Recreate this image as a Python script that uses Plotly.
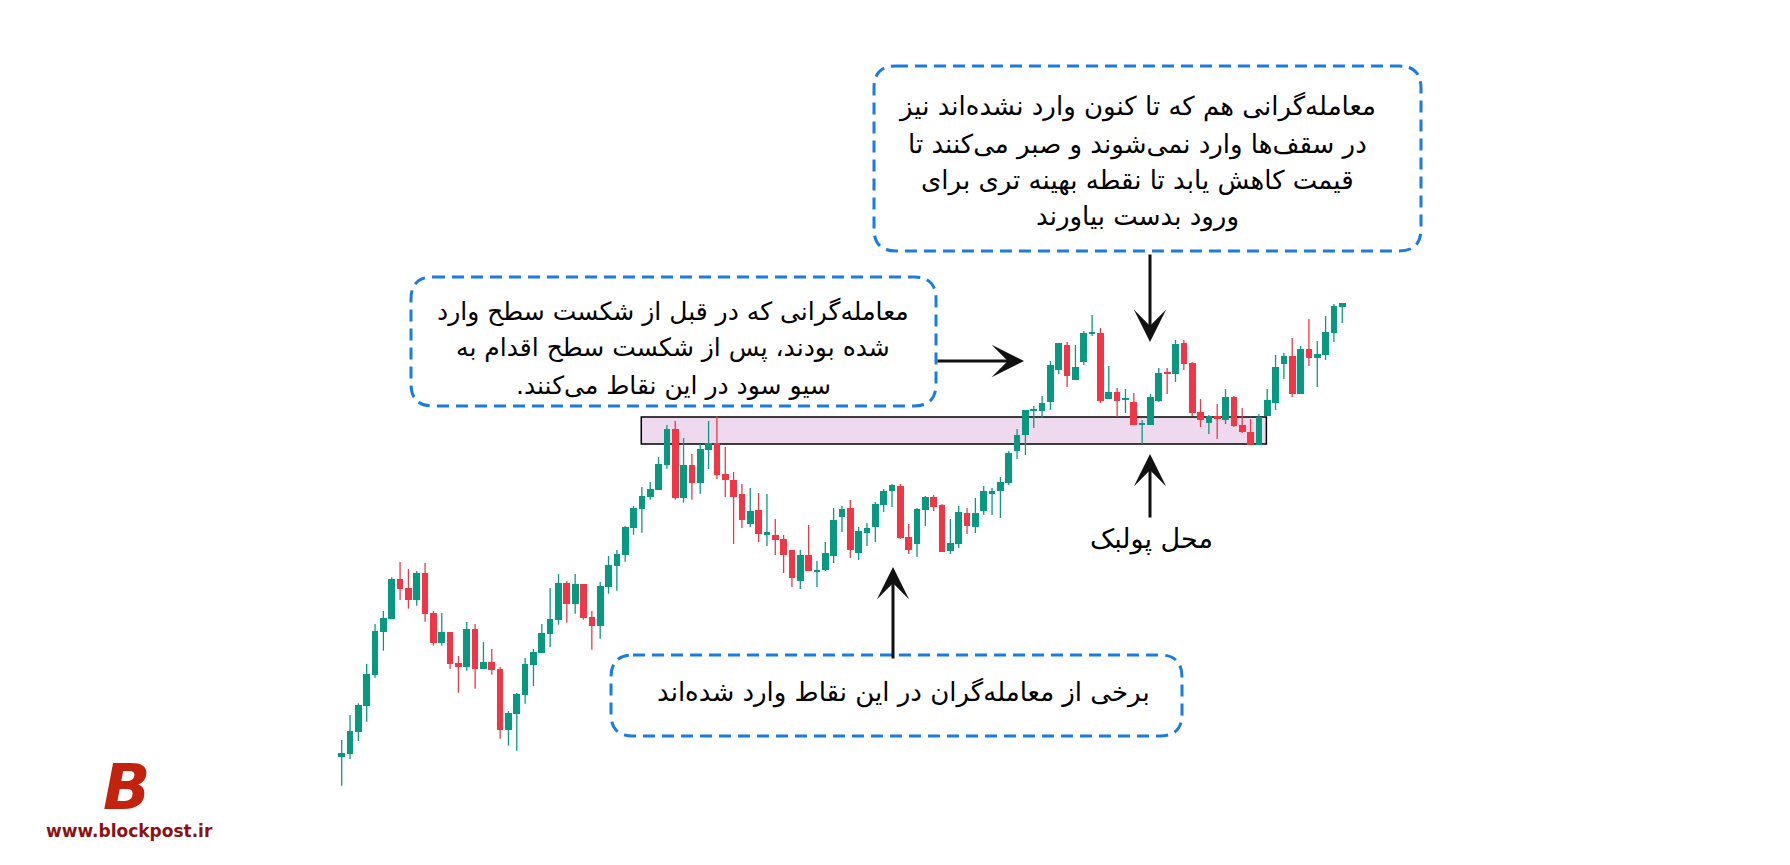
import plotly.graph_objects as go

# ---------------- data (price units) ----------------
opens = [143.3,146.3,168.3,194.3,225.3,268.3,281,321,312,300.3,327,287,257.3,268,237,233.3,271,231.3,238,231,
         170.3,186.3,205.3,235.3,247,266.3,280.3,317,296.3,316,283,274.3,313.3,334.3,345.3,372.3,391.3,403.3,410.3,435.3,
         471,402.3,435,417.3,450,457,426,420,406,376,390,365,365,361,350,319,345,328,330,344,
         383,392,347,367,373,395,409,414,363,356,390,403,395,349,356,387,373,389,406,409,
         417,449,465,489,489,498,530,555,520,538,566,567,501,508,500,498,475,475,499,527,
         526,557,537,488,477,484,480,503,475,468,455,484,497,536,544,506,551,542,545,567,593]
highs = [160,185,196.7,236,276,289,322.7,338,331,329,337,289,287,268,244,278,276,258,251,233,
         189,207,242,251,276,312,326,319,326,316,289,318,344,350,374,394,413,418,443,475,
         479,462,446,456,479,484,453,428,416,412,407,406,381,365,350,350,375,339,358,392,
         394,400,373,377,398,411,416,416,376,392,404,405,396,381,394,392,402,414,412,423,
         449,471,490,494,504,539,557,558,555,569,585,572,534,512,511,507,480,506,532,532,
         560,560,538,501,485,496,511,504,492,481,486,511,545,547,562,554,581,559,584,596,597]
lows = [114.3,141,159,178.3,222.3,249.3,281,300,291.3,294.3,278.3,254.3,254.3,231.3,207.3,229.3,211.3,231.3,225.3,161.3,
        154.3,149.3,196.3,214,247,253,275.3,277.3,286.3,280.3,250.3,261.3,306.3,309.3,338.3,365.3,367.3,400.3,410.3,431.3,
        400.3,397.3,400.3,406.3,431,421,403,356,372,373,358,354,345,327,313,311,329,313,329,337,
        368,342,340,354,358,388,393,361,346,343,374,389,348,346,352,366,367,385,385,382,
        415,441,445,472,482,490,526,513,520,535,564,497,501,483,487,475,456,475,498,506,
        518,530,484,473,466,461,476,473,467,455,455,484,490,521,503,506,534,513,540,558,577]
closes = [146.7,169,195,226,269,282,321,311.3,300.3,327,286.3,257.3,268,236.3,233.3,271,231.3,238,230.3,170.3,
          187,206,236,248,267,281,317,296.3,316,282,274.3,314,335,346,373,392,404,411,436,471,
          402.3,435,417.3,451,457,425,420,403,380,389,366,368,360,345,322,345,329,329,347,380,
          391,350,369,372,396,409,415,362,350,391,403,393,348,357,388,374,387,409,409,418,
          447,465,490,490,497,535,557,524,533,567,567,499,508,499,501,475,476,503,527,526,
          556,536,487,480,484,481,503,474,468,455,483,500,533,544,506,551,542,546,568,594,597]

zone_low, zone_high = 456, 483
zone_start, zone_end = 35.93, 110.9

box1_lines = ["معامله\u200cگرانی که در قبل از شکست سطح وارد",
              "شده بودند، پس از شکست سطح اقدام به",
              "سیو سود در این نقاط می\u200cکنند.\u200f"]
box2_lines = ["معامله\u200cگرانی هم که تا کنون وارد نشده\u200cاند نیز",
              "در سقف\u200cها وارد نمی\u200cشوند و صبر می\u200cکنند تا",
              "قیمت کاهش یابد تا نقطه بهینه تری برای",
              "ورود بدست بیاورند"]
box3_text = "برخی از معامله\u200cگران در این نقاط وارد شده\u200cاند"
pullback_label = "محل پولبک"

# ---------------- figure ----------------
W, H = 1790, 865
GREEN, RED = "#089981", "#F23645"
n = len(opens)
idx = list(range(n))

fig = go.Figure()

for col, up in ((GREEN, True), (RED, False)):
    sel = [i for i in idx if (closes[i] >= opens[i]) == up]
    wx, wy = [], []
    for i in sel:
        wx += [i, i, None]
        wy += [lows[i], highs[i], None]
    fig.add_trace(go.Scatter(x=wx, y=wy, mode="lines", line=dict(color=col, width=1.3),
                             hoverinfo="skip", showlegend=False))
    fig.add_trace(go.Bar(x=sel,
                         base=[min(opens[i], closes[i]) for i in sel],
                         y=[max(abs(closes[i] - opens[i]), 1.3) for i in sel],
                         width=0.8, marker=dict(color=col, line=dict(width=0)),
                         showlegend=False, hoverinfo="skip"))

x0 = -341.7 / 8.338
x1 = x0 + W / 8.338

def P(px, py):
    return px / W, 1 - py / H

def rrect(a, b, c, d, r=22):
    def f(x, y):
        X, Y = P(x, y)
        return f"{X:.5f},{Y:.5f}"
    return (f"M{f(a+r,b)} L{f(c-r,b)} Q{f(c,b)} {f(c,b+r)} L{f(c,d-r)} Q{f(c,d)} {f(c-r,d)} "
            f"L{f(a+r,d)} Q{f(a,d)} {f(a,d-r)} L{f(a,b+r)} Q{f(a,b)} {f(a+r,b)} Z")

BLUE = "#1A7BE3"
shapes = [
    dict(type="rect", xref="x", yref="y", x0=zone_start, x1=zone_end, y0=zone_low, y1=zone_high,
         fillcolor="#EFD9EE", line=dict(color="black", width=1.5), layer="below"),
]
for (a, b, c, d) in [(411, 277, 936, 406), (874, 66, 1421, 251), (611, 655, 1182, 736)]:
    shapes.append(dict(type="path", xref="paper", yref="paper", path=rrect(a, b, c, d),
                       line=dict(color=BLUE, width=3, dash="12px,7px"), fillcolor="rgba(0,0,0,0)"))

FONT = "DejaVu Sans"
ann = []
def text(px, py, t, size=22, color="black", bold=False, italic=False, family=FONT, height=None):
    X, Y = P(px, py)
    tt = t
    if bold:
        tt = f"<b>{tt}</b>"
    if italic:
        tt = f"<i>{tt}</i>"
    a = dict(xref="paper", yref="paper", x=X, y=Y, text=tt, showarrow=False,
             xanchor="center", yanchor="middle",
             font=dict(family=family, size=size, color=color))
    if height:
        a["height"] = height
    ann.append(a)

for t, yy in zip(box1_lines, [312, 348, 385]):
    text(673, yy, t, size=25)
for t, yy in zip(box2_lines, [106, 144, 181, 216]):
    text(1137, yy, t, size=26)
text(903, 692, box3_text, size=26)
text(1151, 539, pullback_label, size=27)

def arrow(hx, hy, tx, ty):
    X, Y = P(hx, hy)
    ann.append(dict(xref="paper", yref="paper", x=X, y=Y, ax=tx - hx, ay=ty - hy,
                    axref="pixel", ayref="pixel", text="", showarrow=True,
                    arrowhead=3, arrowsize=1.8, arrowwidth=3, arrowcolor="#111111",
                    standoff=0, startstandoff=0))

arrow(1024, 361, 936, 361)
arrow(1150, 342, 1150, 253)
arrow(1150, 454, 1150, 519)
arrow(893, 567, 893, 660)

# logo
text(127, 787, "B", size=62, color="#C2220E", bold=True, italic=True, height=54)
text(129, 831, "www.blockpost.ir", size=17, color="#8E1111", bold=True)

fig.update_layout(
    width=W, height=H, autosize=False,
    margin=dict(l=0, r=0, t=0, b=0),
    paper_bgcolor="white", plot_bgcolor="white",
    barmode="overlay", bargap=0,
    xaxis=dict(range=[x0, x1], visible=False, fixedrange=True),
    yaxis=dict(range=[35, 900], visible=False, fixedrange=True),
    shapes=shapes, annotations=ann, showlegend=False,
)

fig.write_html("out.html")
